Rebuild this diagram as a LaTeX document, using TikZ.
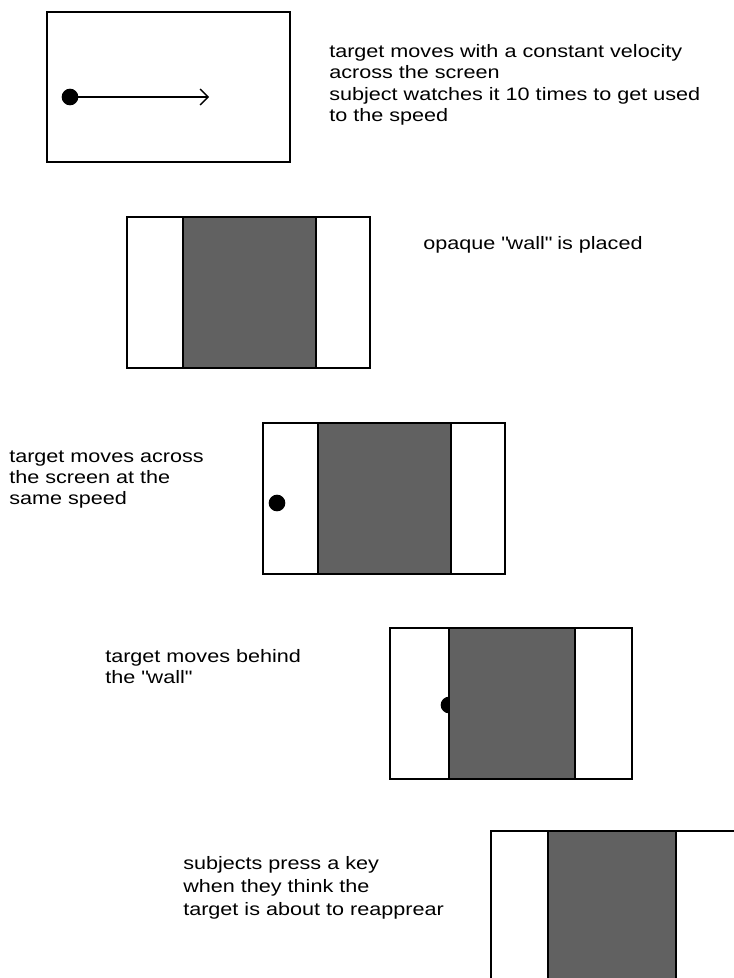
\documentclass[tikz,border=0pt]{standalone}
\usepackage{fontspec}
\setmainfont[FakeStretch=1.2]{Liberation Sans}
\usetikzlibrary{arrows.meta}
\tikzset{
  frame/.style={draw=black, line width=1.4pt},
  wall/.style={draw=black, line width=0.9pt, fill=black!62},
  target/.style={circle, fill=black, inner sep=0pt, minimum size=12.5pt},
  caption/.style={anchor=base west, inner sep=0pt, font=\fontsize{13.5pt}{16pt}\selectfont},
  motion/.style={line width=1pt, -{Straight Barb[length=6pt,width=12pt,line width=1pt]}},
}
\begin{document}
\begin{tikzpicture}[x=0.75pt,y=-0.75pt]
\useasboundingbox (0,0) rectangle (734,978);
\fill[white] (0,0) rectangle (734,978);

% Panel 1
\draw[frame] (47,12) rectangle (290,162);
\node[target] (d1) at (70,97) {};
\coordinate (a1) at (209,97);
\draw[motion] (d1.center) -- (a1);
\node[caption] (t1a) at (329,57) {target moves with a constant velocity};
\node[caption] (t1b) at (329,78.5) {across the screen};
\node[caption] (t1c) at (329,100) {subject watches it 10 times to get used};
\node[caption] (t1d) at (329,121.5) {to the speed};

% Panel 2
\draw[wall] (183,217) rectangle (316,368);
\draw[frame] (127,217) rectangle (370,368);
\node[caption] (t2) at (423,249.5) {opaque \textquotedbl wall\textquotedbl{} is placed};

% Panel 3
\node[target] (d3) at (277,503) {};
\draw[wall] (318,423) rectangle (451,574);
\draw[frame] (263,423) rectangle (505,574);
\node[caption] (t3a) at (9,462) {target moves across};
\node[caption] (t3b) at (9,483) {the screen at the};
\node[caption] (t3c) at (9,504) {same speed};

% Panel 4
\node[target] (d4) at (449,705) {};
\draw[wall] (449,628) rectangle (575,779);
\draw[frame] (390,628) rectangle (632,779);
\node[caption] (t4a) at (105,662.5) {target moves behind};
\node[caption] (t4b) at (105,683) {the \textquotedbl wall\textquotedbl};

% Panel 5
\draw[wall] (548,831) rectangle (676,980);
\draw[frame] (491,980) -- (491,831) -- (736,831);
\node[caption] (t5a) at (183,869.5) {subjects press a key};
\node[caption] (t5b) at (183,892.5) {when they think the};
\node[caption] (t5c) at (183,915.5) {target is about to reapprear};
\end{tikzpicture}
\end{document}
